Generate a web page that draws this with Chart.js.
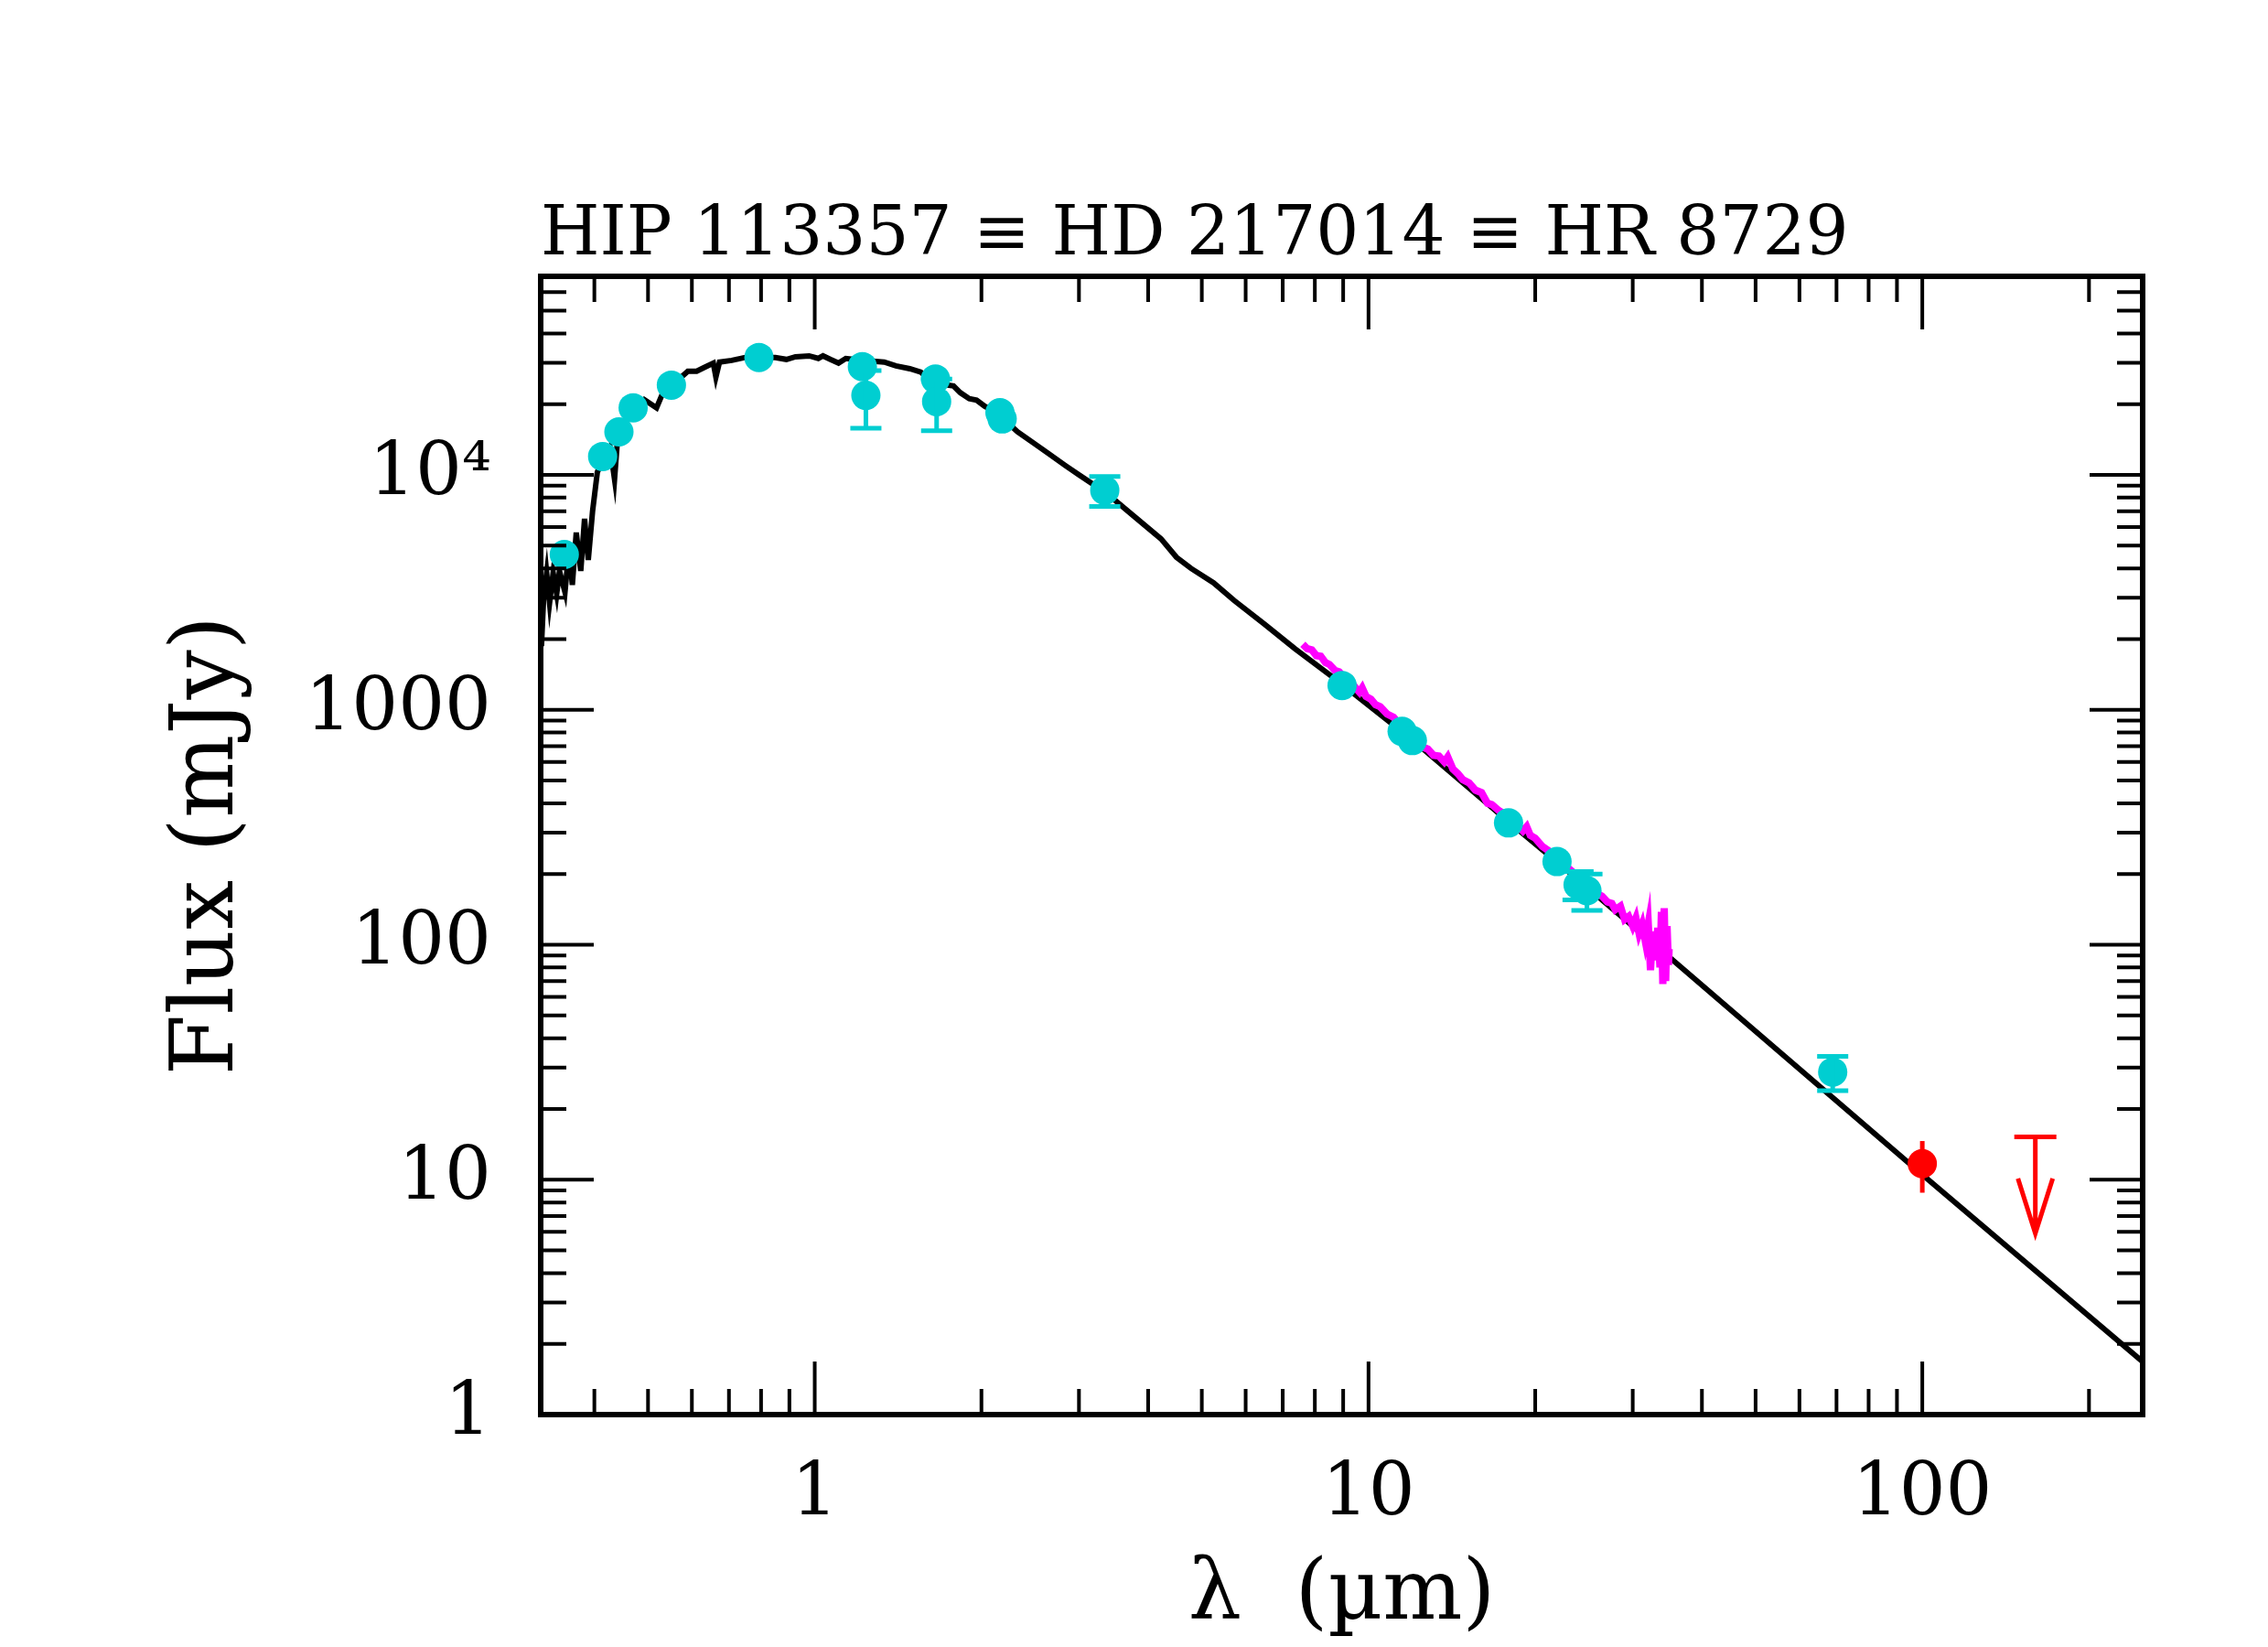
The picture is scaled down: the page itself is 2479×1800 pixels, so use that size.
<!DOCTYPE html>
<html>
<head>
<meta charset="utf-8">
<title>HIP 113357 SED</title>
<style>
  body { margin: 0; background: #fff; overflow: hidden; }
  canvas { display: block; }
</style>
</head>
<body>
<canvas id="sed" width="2479" height="1800"></canvas>
<script src="https://cdn.jsdelivr.net/npm/chart.js@4/dist/chart.umd.min.js"></script>
<script>
// axis ticks / labels
var xMajor = [1, 10, 100];
var xLabels = ['1', '10', '100'];
var xMinor = [0.4, 0.5, 0.6, 0.7, 0.8, 0.9, 2, 3, 4, 5, 6, 7, 8, 9, 20, 30, 40, 50, 60, 70, 80, 90, 200];
var yMajor = [1, 10, 100, 1000, 10000];
var yLabels = ['1', '10', '100', '1000', '10\u2074'];
var yMinor = [2, 3, 4, 5, 6, 7, 8, 9, 20, 30, 40, 50, 60, 70, 80, 90,
  200, 300, 400, 500, 600, 700, 800, 900, 2000, 3000, 4000, 5000, 6000, 7000, 8000, 9000,
  20000, 30000, 40000, 50000, 60000, 70000];

// photometry (cyan), wavelength in micron, flux in mJy, symmetric error (0 = none drawn)
var cyanLam  = [0.353, 0.414, 0.443, 0.470, 0.551, 0.793, 1.219, 1.237, 1.652, 1.660, 2.16, 2.18, 3.34, 8.96, 11.5, 12.0, 17.9, 21.9, 23.9, 24.8, 68.9];
var cyanFlux = [4580, 11970, 15240, 19300, 24100, 31600, 28900, 21800, 25600, 20500, 18400, 17300, 8590, 1269, 809, 740, 330, 226, 180, 170, 28.7];
var cyanErr  = [0, 0, 0, 0, 0, 0, 0, 6000, 0, 5100, 0, 0, 1250, 0, 0, 0, 0, 0, 25, 30, 4.8];

// red detection and upper limit
var redLam = [100];
var redFlux = [11.7];
var redErr = [2.9];
var limLam = [160];
var limFlux = [15.2];
var limTip = [5.9];

// photosphere model (black)
var modelLam = [0.321, 0.324, 0.328, 0.332, 0.337, 0.342, 0.346, 0.354, 0.360, 0.365, 0.371, 0.378, 0.384, 0.390, 0.397,
  0.405, 0.414, 0.427, 0.435, 0.440, 0.457, 0.475, 0.492, 0.518, 0.532, 0.563, 0.590, 0.612, 0.631, 0.656, 0.663, 0.673,
  0.708, 0.749, 0.849, 0.889, 0.923, 0.977, 1.015, 1.035, 1.067, 1.104, 1.138, 1.228, 1.335, 1.402, 1.485, 1.554, 1.584,
  1.664, 1.781, 1.831, 1.901, 1.960, 2.027, 2.130, 2.324, 2.480, 2.646, 2.836, 3.001, 3.363, 3.91, 4.22, 4.50, 4.78,
  5.25, 5.72, 6.48, 7.37, 8.59, 12.0, 17.9, 24.0, 35.0, 100, 250];
var modelFlux = [1866, 3030, 3830, 2845, 3830, 3110, 3900, 3170, 4880, 3400, 5680, 3900, 6500, 4340, 6990,
  10280, 11450, 13090, 9570, 13700, 17100, 19600, 20900, 19300, 22400, 25000, 27600, 27600, 28600, 29900, 26100, 30200,
  30700, 31600, 31600, 31000, 31800, 32100, 31300, 32100, 31000, 29900, 31300, 30700, 30200, 29100, 28300, 27400, 26300,
  24500, 23900, 22400, 21100, 20800, 19600, 18400, 15240, 13700, 12300, 10950, 10000, 8360, 6210, 5340, 4460, 4000,
  3470, 2920, 2320, 1816, 1387, 745, 334, 188, 88.2, 10.5, 1.68];

// IRS spectrum (magenta)
var irsLam = [7.61, 7.75, 7.90, 8.05, 8.20, 8.36, 8.50, 8.70, 8.85, 9.05, 9.25, 9.45, 9.63, 9.74, 9.90, 10.1, 10.3, 10.5,
  10.8, 11.1, 11.4, 11.7, 12.0, 12.3, 12.5, 12.8, 13.1, 13.4, 13.7, 13.9, 14.2, 14.5, 14.8, 15.2, 15.6, 16.0, 16.4, 16.7,
  17.2, 17.6, 18.0, 18.5, 19.0, 19.3, 19.6, 20.0, 20.6, 21.2, 21.8, 22.4, 23.0, 23.6, 24.2, 24.8, 25.4, 26.0, 26.4, 27.0,
  27.5, 27.9, 28.5, 29.0, 29.5, 30.0, 30.4, 30.8, 31.2, 31.6, 32.0, 32.3, 32.6, 32.9, 33.3, 33.6, 33.8, 34.0, 34.2, 34.4,
  34.6, 34.8, 34.9];
var irsFlux = [1900, 1820, 1800, 1700, 1690, 1590, 1560, 1470, 1450, 1370, 1330, 1250, 1190, 1240, 1140, 1110, 1050, 1030,
  960, 930, 860, 830, 780, 720, 695, 680, 640, 635, 600, 630, 560, 535, 504, 488, 455, 444, 400, 395,
  372, 360, 338, 325, 305, 318, 292, 284, 262, 250, 232, 226, 211, 200, 186, 180, 172, 164, 161, 152,
  150, 141, 146, 128, 132, 120, 130, 112, 122, 104, 123, 78, 114, 86, 118, 80, 138, 68, 143, 70,
  120, 82, 96];

var CYAN = 'rgb(0, 206, 209)';
var RED = 'rgb(255, 0, 0)';
var MAGENTA = 'rgb(255, 0, 255)';

function pairs(xs, ys) {
  return xs.map(function(v, i) { return {x: v, y: ys[i]}; });
}

// frame with inward ticks on all four sides
const frameTicks = {
  id: 'frameTicks',
  afterDatasetsDraw(chart) {
    const {ctx, chartArea: a, scales: {x, y}} = chart;
    ctx.save();
    ctx.strokeStyle = '#000';
    ctx.lineCap = 'butt';
    ctx.lineWidth = 4;
    function xt(v, len) {
      const px = x.getPixelForValue(v);
      ctx.beginPath();
      ctx.moveTo(px, a.bottom); ctx.lineTo(px, a.bottom - len);
      ctx.moveTo(px, a.top); ctx.lineTo(px, a.top + len);
      ctx.stroke();
    }
    function yt(v, len) {
      const py = y.getPixelForValue(v);
      ctx.beginPath();
      ctx.moveTo(a.left, py); ctx.lineTo(a.left + len, py);
      ctx.moveTo(a.right, py); ctx.lineTo(a.right - len, py);
      ctx.stroke();
    }
    xMajor.forEach(v => xt(v, 58));
    xMinor.forEach(v => xt(v, 28));
    yMajor.forEach(v => yt(v, 58));
    yMinor.forEach(v => yt(v, 28));
    ctx.lineWidth = 6;
    ctx.strokeRect(a.left, a.top, a.right - a.left, a.bottom - a.top);
    ctx.restore();
  }
};

// error bars and the upper limit arrow
const errorBars = {
  id: 'errorBars',
  afterDatasetsDraw(chart) {
    const {ctx, chartArea: a, scales: {x, y}} = chart;
    ctx.save();
    ctx.beginPath();
    ctx.rect(a.left, a.top, a.right - a.left, a.bottom - a.top);
    ctx.clip();
    ctx.lineWidth = 5;
    ctx.lineCap = 'butt';

    ctx.strokeStyle = CYAN;
    cyanLam.forEach(function(lam, i) {
      const e = cyanErr[i];
      if (!e) return;
      const px = x.getPixelForValue(lam);
      const hi = y.getPixelForValue(cyanFlux[i] + e);
      const lo = y.getPixelForValue(cyanFlux[i] - e);
      ctx.beginPath();
      ctx.moveTo(px, hi); ctx.lineTo(px, lo);
      ctx.moveTo(px - 17, hi); ctx.lineTo(px + 17, hi);
      ctx.moveTo(px - 17, lo); ctx.lineTo(px + 17, lo);
      ctx.stroke();
    });

    ctx.strokeStyle = RED;
    redLam.forEach(function(lam, i) {
      const px = x.getPixelForValue(lam);
      ctx.beginPath();
      ctx.moveTo(px, y.getPixelForValue(redFlux[i] + redErr[i]));
      ctx.lineTo(px, y.getPixelForValue(redFlux[i] - redErr[i]));
      ctx.stroke();
    });

    limLam.forEach(function(lam, i) {
      const px = x.getPixelForValue(lam);
      const top = y.getPixelForValue(limFlux[i]);
      const tip = y.getPixelForValue(limTip[i]);
      ctx.beginPath();
      ctx.moveTo(px - 23, top); ctx.lineTo(px + 23, top);
      ctx.moveTo(px, top); ctx.lineTo(px, tip);
      ctx.moveTo(px - 19, tip - 60); ctx.lineTo(px, tip); ctx.lineTo(px + 19, tip - 60);
      ctx.stroke();
    });
    ctx.restore();
  }
};

Chart.defaults.font.family = '"DejaVu Serif", "Liberation Serif", serif';
Chart.defaults.color = '#000';

const sed = new Chart(document.getElementById('sed'), {
  type: 'scatter',
  data: {
    datasets: [{
      label: 'Photometry',
      data: pairs(cyanLam, cyanFlux),
      pointRadius: 16,
      pointBackgroundColor: CYAN,
      pointBorderWidth: 0,
      order: 1
    }, {
      label: 'MIPS 100',
      data: pairs(redLam, redFlux),
      pointRadius: 16,
      pointBackgroundColor: RED,
      pointBorderWidth: 0,
      order: 1
    }, {
      label: 'IRS',
      data: pairs(irsLam, irsFlux),
      showLine: true,
      borderColor: MAGENTA,
      borderWidth: 8,
      pointRadius: 0,
      order: 3
    }, {
      label: 'Model',
      data: pairs(modelLam, modelFlux),
      showLine: true,
      borderColor: '#000',
      borderWidth: 6,
      pointRadius: 0,
      order: 4
    }]
  },
  options: {
    responsive: false,
    devicePixelRatio: 1,
    animation: false,
    layout: { padding: { top: 0, right: 137, bottom: 0, left: 0 } },
    plugins: {
      legend: { display: false },
      tooltip: { enabled: false },
      title: {
        display: true,
        text: 'HIP 113357 \u2261 HD 217014 \u2261 HR 8729',
        align: 'start',
        fullSize: false,
        color: '#000',
        font: { size: 74, weight: 'normal', lineHeight: 1 },
        padding: { top: 222, bottom: 6 }
      }
    },
    scales: {
      x: {
        type: 'logarithmic',
        position: 'bottom',
        min: 0.32,
        max: 250,
        bounds: 'data',
        grid: { display: false, drawTicks: false },
        border: { display: false },
        afterBuildTicks: function(s) { s.ticks = xMajor.map(v => ({value: v})); },
        afterFit: function(s) { s.height = 254; },
        ticks: {
          font: { size: 80 },
          padding: 40,
          maxRotation: 0,
          autoSkip: false,
          callback: function(v, i) { return xLabels[i]; }
        },
        title: {
          display: true,
          text: '\u03bb  (\u00b5m)',
          font: { size: 92 },
          padding: { top: 0, bottom: 0 }
        }
      },
      y: {
        type: 'logarithmic',
        position: 'left',
        min: 1,
        max: 70000,
        bounds: 'data',
        grid: { display: false, drawTicks: false },
        border: { display: false },
        afterBuildTicks: function(s) { s.ticks = yMajor.map(v => ({value: v})); },
        afterFit: function(s) { s.width = 591; },
        ticks: {
          font: { size: 80 },
          padding: 54,
          autoSkip: false,
          callback: function(v, i) { return yLabels[i]; }
        },
        title: {
          display: true,
          text: 'Flux (mJy)',
          font: { size: 96 },
          padding: { top: 171, bottom: 0 }
        }
      }
    }
  },
  plugins: [errorBars, frameTicks]
});
</script>
</body>
</html>
